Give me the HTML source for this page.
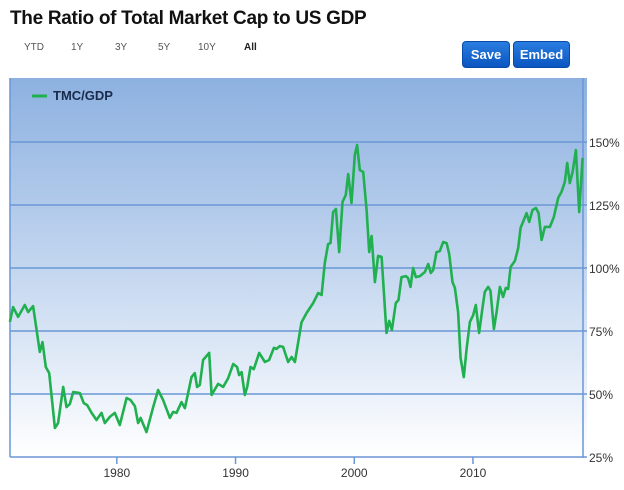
<!DOCTYPE html>
<html><head><meta charset="utf-8">
<style>
body{margin:0;width:624px;height:490px;background:#fff;font-family:"Liberation Sans",Arial,sans-serif;overflow:hidden;position:relative}
.title{position:absolute;left:10px;top:8px;font-size:19px;font-weight:bold;color:#111;letter-spacing:-0.3px}
.rng{position:absolute;top:42px;font-size:10px;color:#555}
.btn{position:absolute;top:41px;height:25px;line-height:25px;color:#fff;font-weight:bold;font-size:13px;text-align:center;border-radius:4px;background:linear-gradient(#2a7de0,#0b55c0);border:1px solid #0a4aa8}
</style></head><body>
<div class="title">The Ratio of Total Market Cap to US GDP</div>
<div class="rng" style="left:24px">YTD</div>
<div class="rng" style="left:71px">1Y</div>
<div class="rng" style="left:115px">3Y</div>
<div class="rng" style="left:158px">5Y</div>
<div class="rng" style="left:198px">10Y</div>
<div class="rng" style="left:244px;font-weight:bold;color:#222">All</div>
<div class="btn" style="left:462px;width:46px">Save</div>
<div class="btn" style="left:513px;width:55px">Embed</div>
<svg id="chart" width="624" height="490" style="position:absolute;left:0;top:0">
<defs><linearGradient id="bg" x1="0" y1="0" x2="0" y2="1"><stop offset="0" stop-color="#8db1e0"/><stop offset="0.5" stop-color="#c3d6ef"/><stop offset="1" stop-color="#ffffff"/></linearGradient></defs>
<rect x="10" y="78" width="577" height="379" fill="url(#bg)"/>
<g id="grid"></g><g id="axes"></g>
<line x1="32" y1="96" x2="47" y2="96" stroke="#21b04f" stroke-width="3"/>
<text x="53" y="100" font-size="13" font-weight="bold" fill="#1a2a4a">TMC/GDP</text>
<polyline id="series" fill="none" stroke="#21b04f" stroke-width="2.6" stroke-linejoin="round"/>
</svg>
<script>
const years=[1970.99,1971.26,1971.68,1972.25,1972.53,1972.95,1973.51,1973.74,1974.02,1974.30,1974.78,1975.05,1975.48,1975.76,1976.04,1976.32,1976.88,1977.22,1977.50,1977.87,1978.29,1978.71,1978.99,1979.41,1979.83,1980.25,1980.82,1981.15,1981.52,1981.79,1982.00,1982.50,1983.06,1983.48,1983.90,1984.47,1984.74,1985.03,1985.45,1985.73,1986.29,1986.57,1986.76,1986.99,1987.27,1987.78,1987.98,1988.53,1988.96,1989.38,1989.80,1990.13,1990.30,1990.51,1990.78,1990.98,1991.26,1991.54,1991.99,1992.47,1992.83,1993.23,1993.45,1993.73,1994.01,1994.43,1994.72,1995.00,1995.56,1995.98,1996.54,1996.96,1997.25,1997.52,1997.80,1998.00,1998.22,1998.45,1998.73,1999.01,1999.29,1999.49,1999.77,2000.05,2000.24,2000.47,2000.75,2001.04,2001.26,2001.46,2001.74,2002.01,2002.30,2002.72,2002.94,2003.17,2003.50,2003.73,2003.98,2004.35,2004.54,2004.74,2004.96,2005.19,2005.53,2005.95,2006.23,2006.45,2006.65,2006.93,2007.21,2007.49,2007.78,2008.00,2008.28,2008.48,2008.75,2008.96,2009.23,2009.46,2009.74,2010.02,2010.24,2010.52,2010.81,2011.00,2011.28,2011.48,2011.76,2011.99,2012.27,2012.54,2012.77,2012.97,2013.17,2013.53,2013.81,2014.01,2014.52,2014.74,2015.02,2015.30,2015.53,2015.78,2016.06,2016.48,2016.81,2017.18,2017.46,2017.74,2017.94,2018.16,2018.39,2018.67,2018.95,2019.24];
const ratios=[78.6,84.5,80.6,85.3,82.5,84.9,66.7,70.6,60.7,58.3,36.5,38.5,52.8,44.8,46,50.8,50.4,46.4,45.6,42.5,39.7,42.5,38.5,40.9,42.5,37.7,48.4,47.6,45.2,38.5,40.5,34.9,44.8,51.6,47.6,40.5,42.9,42.5,46.8,44.4,56.7,58.3,52.8,53.6,63.5,66.3,49.6,54,52.8,56.3,61.9,60.7,57.5,58.7,49.6,52.8,60.7,59.9,66.3,62.7,63.5,68.3,67.9,69,68.7,62.7,64.7,62.7,78.4,82.1,86.1,90.1,89.3,102,109.5,109.9,122.2,123.4,106.3,126.2,129,137.3,125.8,144.8,148.8,138.9,138.1,123,106.3,112.7,94.4,104.8,104.4,74.2,79,75.4,86.1,87.3,96.4,96.8,96,92.5,100,96.4,96.8,98.4,101.6,98,99.2,106.3,106.7,110.3,109.9,105.6,94.4,92.1,82.5,64.3,56.7,67.5,78.6,81.3,85.3,74.2,84.5,90.5,92.5,90.9,75.8,82.5,92.5,88.5,92.1,91.7,100.4,102.8,107.9,115.9,121.8,118.3,123,123.8,121.8,111.1,116.3,116.3,120.2,127.8,130.2,134.1,141.7,133.7,138.1,146.8,122.2,143.7];
const yTicks=[25,50,75,100,125,150];
const yTickLabels=["25%","50%","75%","100%","125%","150%"];
const xTicks=[1980,1990,2000,2010];
const xTickLabels=["1980","1990","2000","2010"];
const X0=10,X1=583,Y0=457,Y1=78,xMin=1971,xMax=2019.27,yMin=25,yMax=175.4;
const xs=v=>X0+(v-xMin)/(xMax-xMin)*(X1-X0);
const ys=v=>Y0-(v-yMin)/(yMax-yMin)*(Y0-Y1);
const NS="http://www.w3.org/2000/svg";
const grid=document.getElementById('grid'),axes=document.getElementById('axes');
function mk(tag,at,par,txt){const e=document.createElementNS(NS,tag);for(const k in at)e.setAttribute(k,at[k]);if(txt!=null)e.textContent=txt;par.appendChild(e);return e;}
yTicks.forEach((t,i)=>{
 const l=mk('line',{x1:X0,x2:X1+4,y1:ys(t),y2:ys(t),stroke:'#6b97d6','stroke-width':1.5},grid);
 
 
 const tx=mk('text',{x:X1+6,y:ys(t)+5,'font-size':12,fill:'#333'},axes,yTickLabels[i]);
 
 
});
const ax=mk('line',{x1:X0,x2:X0,y1:Y1,y2:Y0,stroke:'#6b97d6','stroke-width':1.5},axes);


const ar=mk('line',{x1:X1,x2:X1,y1:Y1,y2:Y0+1,stroke:'#6b97d6','stroke-width':1.5},axes);


xTicks.forEach((t,i)=>{
 const l=mk('line',{x1:xs(t),x2:xs(t),y1:Y0,y2:Y0+7,stroke:'#6b97d6','stroke-width':1.5},axes);
 
 
 const tx=mk('text',{x:xs(t),y:Y0+20,'font-size':12,fill:'#333','text-anchor':'middle'},axes,xTickLabels[i]);
 
 
});
document.getElementById('series').setAttribute('points',years.map((y,i)=>xs(y).toFixed(1)+','+ys(ratios[i]).toFixed(1)).join(' '));
</script>
</body></html>
